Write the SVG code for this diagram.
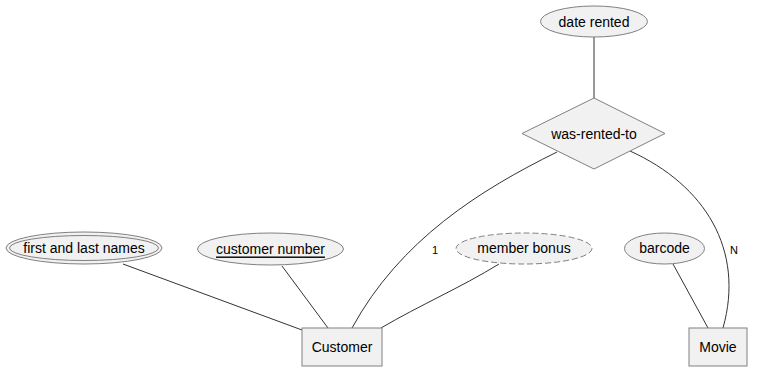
<svg xmlns="http://www.w3.org/2000/svg" width="759" height="378" viewBox="0 0 759 378">
<style>
.shape{fill:#f1f1f1;stroke:#808080;stroke-width:1}
.dashed{stroke-dasharray:6,3}
.lbl{font-family:"Liberation Sans",Arial,sans-serif;font-size:14px;fill:#000;text-anchor:middle;dominant-baseline:central}
.card{font-family:"Liberation Sans",Arial,sans-serif;font-size:11px;fill:#000;text-anchor:middle;dominant-baseline:central}
.edge{fill:none;stroke:#333;stroke-width:1}
</style>
<rect width="759" height="378" fill="#fff"/>
<g id="connectors">
<line class="edge" x1="594" y1="37" x2="594" y2="98"/>
<path class="edge" d="M557,152 C480,190 400,240 352,328"/>
<path class="edge" d="M630,151 C705,185 745,250 723,328"/>
<line class="edge" x1="123" y1="264" x2="302" y2="330"/>
<line class="edge" x1="282" y1="266" x2="328" y2="328"/>
<path class="edge" d="M499,264 C460,288 420,305 381,328"/>
<line class="edge" x1="673" y1="264" x2="708" y2="328"/>
<text class="card" x="435" y="250">1</text>
<text class="card" x="734" y="250">N</text>
</g>
<g id="date-rented">
<ellipse class="shape" cx="594" cy="21.5" rx="53.5" ry="15.5"/>
<text class="lbl" x="594" y="21.5">date rented</text>
</g>
<g id="was-rented-to">
<polygon class="shape" points="594,98 665,133.5 594,169 522,133.5"/>
<text class="lbl" x="594" y="133.5">was-rented-to</text>
</g>
<g id="first-and-last-names">
<ellipse class="shape" cx="84" cy="248" rx="78" ry="16"/>
<ellipse class="shape" cx="84" cy="248" rx="74.5" ry="12.5"/>
<text class="lbl" x="84" y="247.5">first and last names</text>
</g>
<g id="customer-number">
<ellipse class="shape" cx="270.5" cy="249" rx="73" ry="16"/>
<text class="lbl" x="270.5" y="248.5" text-decoration="underline">customer number</text>
</g>
<g id="member-bonus">
<ellipse class="shape dashed" cx="524" cy="248.5" rx="68" ry="15.5"/>
<text class="lbl" x="524" y="248">member bonus</text>
</g>
<g id="barcode">
<ellipse class="shape" cx="664.5" cy="248.5" rx="40" ry="15.5"/>
<text class="lbl" x="664.5" y="248">barcode</text>
</g>
<g id="customer">
<rect class="shape" x="302" y="328" width="80" height="38"/>
<text class="lbl" x="342" y="347">Customer</text>
</g>
<g id="movie">
<rect class="shape" x="689" y="328" width="58" height="38"/>
<text class="lbl" x="718" y="347">Movie</text>
</g>
</svg>
